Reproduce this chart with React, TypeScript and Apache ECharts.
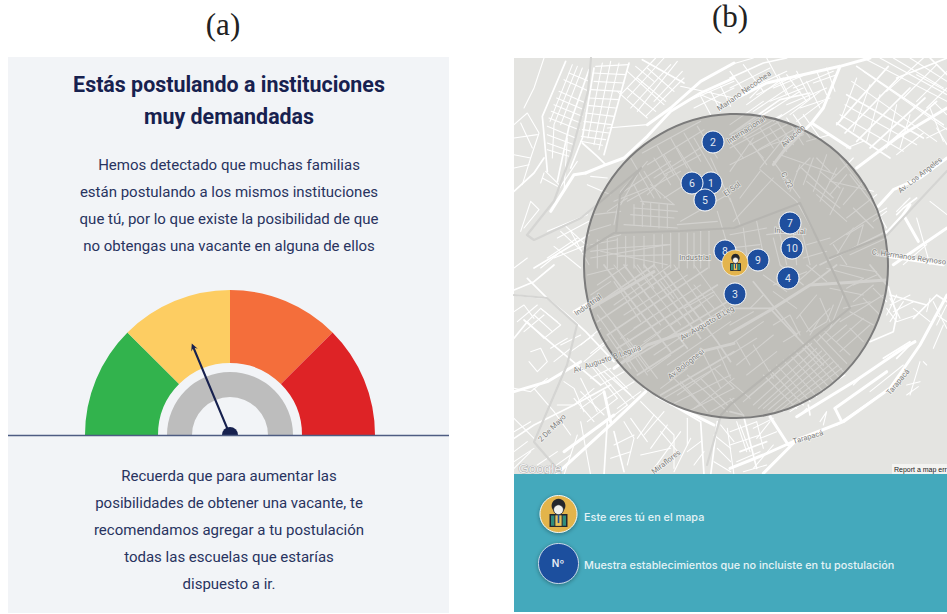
import React, { useEffect, useRef } from "react";
import * as echarts from "echarts";

// ---- Panel (a): gauge ----
const gaugeSegments = [45, 45, 45, 45];
const gaugeColors = ["#32b34d", "#fdcd62", "#f46e3b", "#de2326"];
const needleValue = 37.4;

const titleLines = ["Estás postulando a instituciones", "muy demandadas"];
const introLines = [
  "Hemos detectado que muchas familias",
  "están postulando a los mismos instituciones",
  "que tú, por lo que existe la posibilidad de que",
  "no obtengas una vacante en alguna de ellos",
];
const outroLines = [
  "Recuerda que para aumentar las",
  "posibilidades de obtener una vacante, te",
  "recomendamos agregar a tu postulación",
  "todas las escuelas que estarías",
  "dispuesto a ir.",
];

// ---- Panel (b): map markers ----
const schoolNames = ["2", "1", "6", "5", "7", "10", "8", "9", "4", "3"];
const schoolX = [713, 711, 692, 705, 790, 792, 725, 758, 788, 735];
const schoolY = [142, 183, 183, 200, 223, 248, 251, 260, 278, 294];
const userPoint = [735, 263];
const searchCentre = [736, 266];

const legendTexts = ["Este eres tú en el mapa", "Muestra establecimientos que no incluiste en tu postulación"];

const mapLabels: [string, number, number, number][] = [
  ["Mariano Necochea", 744, 91, 35],
  ["Internacional", 746, 130, 33],
  ["Aviación", 793, 136, 42],
  ["Av. Los Angeles", 920, 175, 38],
  ["El Sol", 732, 189, 35],
  ["C. 22", 787, 180, -62],
  ["Industrial", 695, 257, 0],
  ["Industrial", 790, 231, -3],
  ["C. Hermanos Reynoso", 909, 257, -8],
  ["Industrial", 588, 305, 35],
  ["Av. Augusto B Leguía", 607, 359, 19],
  ["Av. Augusto B Leg", 707, 323, 30],
  ["Av Bolognesi", 686, 364, 38],
  ["2 De Mayo", 552, 428, 45],
  ["Miraflores", 666, 462, 38],
  ["Tarapacá", 898, 382, 50],
  ["Tarapacá", 808, 437, 17],
];

const nwMajor = [
  "215,345 270,322 330,300 400,235 470,160 560,105 660,60",
  "110,460 180,350 215,345",
  "400,200 470,150 560,70 660,15",
];
const nwMedium = [
  "155,10 85,175 100,340", "225,35 165,205 130,370", "240,30 205,240 170,330",
  "345,15 270,290", "385,5 510,75", "60,630 160,570 225,530", "0,400 60,345 90,300",
  "275,320 250,295 205,255",
];
const nwMinor = [
  "90,0 60,90 30,150", "190,25 120,200 115,300", "150,65 225,100", "135,100 215,135", "120,140 205,175",
  "105,180 195,215", "100,230 180,260", "100,275 165,295", "95,340 135,380", "85,360 130,385", "90,345 80,375",
  "245,25 345,20", "290,10 240,260", "240,70 330,75", "225,120 315,125", "215,165 300,175", "205,215 285,225",
  "200,250 265,262", "0,200 40,165 75,225 50,300 25,380", "0,240 70,230", "0,290 50,300", "0,330 45,320",
  "20,195 55,270", "340,40 450,140", "310,100 400,180", "425,0 320,110", "470,20 350,150", "510,60 395,175",
  "365,25 420,70", "280,210 400,200", "20,520 50,430 75,455 30,510", "160,240 150,400", "190,310 130,400",
  "120,565 200,630", "100,600 190,540", "140,520 215,590", "150,500 215,560", "0,630 40,600", "230,355 280,360",
  "220,380 290,410", "500,85 660,120", "560,110 620,135",
  "400,320 570,215", "420,360 590,250", "450,350 560,290", "385,285 560,190", "470,240 520,330", "510,225 560,310",
  "430,265 480,350", "550,205 610,300", "590,300 650,430", "450,420 560,350", "500,490 640,410",
  "360,450 490,460", "350,470 480,480", "380,430 480,440", "330,500 490,510", "400,410 460,350", "320,440 370,350",
  "300,500 320,400 400,310", "280,460 340,420", "240,470 320,460", "225,520 290,500",
  "250,550 320,530", "230,600 460,560", "310,540 310,630", "360,535 360,630", "420,530 420,630", "470,525 470,630",
  "520,525 520,630", "560,520 560,630", "610,460 640,560", "260,580 460,620", "490,500 610,490",
  "175,20 108,190", "205,30 140,200", "165,45 225,70", "128,120 210,155", "112,160 200,195", "100,205 185,240",
  "100,255 170,280", "265,15 222,240", "315,15 255,275", "237,45 335,50", "232,95 322,100", "220,142 305,150",
  "210,190 292,200", "202,235 275,245", "400,30 480,100", "370,60 455,130", "340,90 425,160", "450,0 340,120",
  "490,10 370,160", "505,40 420,130", "520,130 660,70", "540,150 660,90", "590,100 620,160", "620,85 650,145",
  "560,115 590,170", "330,400 470,310", "340,430 500,340", "350,300 420,420", "300,430 400,390", "420,300 470,380",
  "540,240 610,360", "490,270 540,350", "450,290 500,370", "390,340 440,420", "360,380 390,440", "410,380 480,440",
  "360,440 360,500", "385,435 385,505", "410,435 410,505", "435,440 435,510", "460,440 460,510",
  "230,560 310,545", "230,580 310,570", "310,570 470,560", "310,595 470,590", "250,545 250,630", "280,540 280,630",
  "335,535 335,630", "390,535 390,630", "445,530 445,630", "495,525 495,630", "540,525 540,630", "585,520 585,630",
  "100,520 220,470", "130,540 225,490", "120,600 220,560", "80,630 130,590", "170,520 225,620",
];
const neMajor = [
  "0,130 110,75 330,25 420,0", "330,25 280,150 245,195 360,270", "245,195 160,280 130,320",
  "380,330 500,240 651,150", "445,445 490,395 570,360 651,300", "490,620 651,510",
  "440,590 540,605 640,620", "520,470 565,550", "470,525 520,470 540,440",
];
const neMedium = [
  "380,25 640,200", "350,110 580,240", "320,195 480,300", "320,200 475,25", "345,225 505,60",
  "380,250 540,90", "420,270 585,120", "460,270 620,130", "0,230 150,125 240,105", "0,60 100,15 170,0",
  "500,60 651,0", "651,50 600,0", "270,620 470,520", "500,470 520,450 560,420",
];
const neMinor = [
  "0,40 50,110", "40,20 100,100", "110,0 170,110", "170,50 230,130", "230,70 270,150", "50,140 160,60",
  "70,160 190,80", "100,170 210,100", "130,190 240,120", "180,170 270,100", "200,190 280,130", "100,80 60,120",
  "380,60 330,190", "420,80 370,220", "450,110 410,250", "500,140 470,270", "540,170 510,270", "610,130 650,170",
  "600,150 640,250", "620,210 651,260", "490,0 640,90", "540,0 651,70", "590,240 651,210", "500,290 580,225",
  "0,270 150,190", "0,320 120,260 220,230", "90,335 200,430 250,520", "130,310 210,420", "30,420 90,340",
  "10,490 130,360", "150,290 320,350", "215,330 310,420", "230,370 330,450", "260,410 350,490", "210,320 180,400",
  "250,300 220,380", "290,290 250,400", "320,330 270,430", "340,390 300,470", "300,560 420,480 470,450",
  "350,530 400,500 380,570", "320,590 370,510", "110,530 230,515", "40,510 50,590", "80,490 100,590", "130,540 150,620",
  "210,500 240,620", "330,300 400,390", "300,370 430,400", "70,240 0,340", "170,230 90,330", "0,420 30,500",
  "60,250 110,320", "120,210 170,280", "170,180 220,260", "220,170 270,240", "370,300 300,370",
  "360,350 430,440 470,510", "560,480 600,620", "500,460 530,430", "520,440 540,420",
  "0,200 100,130", "20,220 130,150", "40,240 155,170", "60,260 170,200", "85,275 190,215", "0,250 40,300", "40,230 100,300",
  "90,210 130,270", "140,190 190,260", "190,170 240,240", "230,250 300,230", "200,340 240,300", "260,300 300,340",
  "270,340 330,390", "300,410 350,350", "340,440 400,370", "350,480 440,410", "430,490 470,460", "370,450 430,510",
  "310,560 350,620", "360,590 470,540", "0,530 110,510", "0,570 90,560", "0,610 80,600", "230,560 300,540", "220,600 290,580",
  "150,530 170,620", "190,520 200,620",
  "0,20 70,0", "0,90 120,30", "40,100 170,40", "80,110 200,50", "130,90 250,40", "190,90 310,40", "250,75 320,50",
  "145,50 180,120", "200,40 240,120", "260,40 290,110", "290,30 315,100", "120,130 220,90", "170,140 290,90", "210,150 300,120",
  "400,40 651,215", "365,70 620,250", "345,140 560,260", "330,170 520,280", "400,0 651,130", "450,0 651,110", "560,50 651,100",
  "350,270 400,250", "580,0 470,100", "620,20 520,120", "651,40 560,130", "651,90 590,150", "520,620 590,560", "600,430 651,470",
];
const swMajor = [
  "130,625 300,470 395,380", "0,380 100,350 200,290", "270,380 290,470", "300,310 400,240 520,200 660,130",
  "470,330 560,260 660,235", "430,395 560,460 600,480", "230,130 300,90 420,20", "180,140 230,110",
  "150,560 300,450",
];
const swMedium = [
  "0,220 40,170", "0,90 100,100 160,150 215,200 300,290", "30,165 130,250 260,360", "0,75 60,50 120,0", "40,40 100,100",
  "270,0 470,260", "330,0 520,250", "390,0 560,220", "450,20 610,230 650,290", "230,130 420,0", "250,170 490,10",
  "280,210 580,10", "310,250 610,60", "340,290 640,110", "370,330 510,240", "440,390 660,260",
  "0,520 60,480 180,420 290,360", "280,470 270,630", "300,500 330,620", "390,370 560,470 570,630", "610,470 590,630",
];
const swMinor = [
  "40,170 80,130 140,180 90,220 40,170", "60,150 115,200", "80,130 130,170", "50,260 80,250 100,290 70,320 45,290",
  "140,240 200,210", "170,260 240,210", "210,290 270,240", "0,370 50,380 100,340", "0,460 60,520", "60,370 120,440 170,510",
  "150,350 180,370 210,440", "200,340 250,440", "130,420 180,420 240,370", "230,300 310,400", "260,290 340,370",
  "300,340 350,390", "200,430 270,380", "220,470 310,400", "250,490 340,420", "190,510 150,630", "200,470 230,630",
  "330,470 360,520 340,600", "380,410 480,510 480,610", "420,450 370,520", "460,480 410,550", "500,500 420,610",
  "530,520 480,620", "520,460 520,540", "0,610 50,560", "0,560 40,530", "620,480 660,530", "640,490 660,630",
  "240,100 400,310", "280,210 350,310", "300,50 380,170", "220,30 300,10", "370,0 420,70", "440,50 480,100",
  "320,220 420,150", "350,265 440,200", "400,320 470,270", "470,180 560,120", "510,130 600,80", "540,60 600,130",
  "560,250 620,370", "610,250 650,340", "480,340 560,420", "520,330 640,440", "440,370 520,310", "490,390 590,320",
  "540,430 660,340", "590,440 660,400",
  "250,60 340,0", "230,90 290,50", "300,120 470,0", "330,150 520,30", "360,190 560,60", "390,230 600,90", "420,270 630,130",
  "460,300 650,170", "300,0 440,180", "360,0 500,180", "420,0 540,170", "480,0 600,170", "540,0 650,150", "250,150 370,320",
  "300,180 400,330", "340,220 430,340", "450,400 620,300", "470,420 650,330", "520,440 660,370", "560,340 640,420",
  "600,310 660,370", "500,350 580,440", "240,300 340,420", "270,320 360,400", "200,380 270,450", "180,400 240,470",
  "230,340 290,310", "260,360 330,320", "280,400 360,350", "310,430 380,380", "0,140 30,120 60,160", "30,200 90,150",
  "10,170 70,120", "110,250 160,220", "200,240 260,190", "230,265 280,225", "120,290 170,250", "350,460 400,530",
  "390,510 450,440", "440,500 500,570", "300,540 360,510", "290,580 350,560", "380,570 470,550", "520,560 560,530",
  "540,600 570,560", "600,510 650,550", "610,550 650,590", "600,590 650,620", "0,500 50,470", "0,590 60,550", "70,600 130,560",
  "100,620 170,570",
];
const seMajor = [
  "0,610 100,570 200,525 340,470 480,370 570,240 651,90", "200,455 380,345 520,250 555,230", "120,455 175,540",
  "0,205 130,130 240,60 470,45", "315,430 335,470", "315,430 470,320", "100,625 200,525",
];
const seMedium = [
  "475,65 500,150 490,200 420,230", "480,90 590,120", "0,440 40,450 80,610", "550,160 620,90 651,110",
  "500,280 540,240", "460,280 540,230", "450,390 320,480", "240,60 320,0", "0,130 130,130",
  "470,60 420,0", "70,50 200,210", "120,130 280,300", "235,420 240,450", "30,560 110,530",
];
const seMinor = [
  "480,100 510,160", "500,90 470,150", "520,110 480,170", "550,130 600,170", "610,110 650,190", "570,290 540,390",
  "580,290 590,300", "530,360 570,350", "530,390 565,365", "640,180 610,250", "650,120 620,180",
  "70,420 260,250", "100,430 290,265", "130,440 310,290", "160,440 335,310", "40,410 230,245",
  "100,330 200,430", "140,300 240,410", "180,270 280,380", "215,245 310,350", "250,220 340,320", "285,200 360,270",
  "320,230 400,160", "330,260 420,180", "360,190 400,230", "290,230 350,180", "210,150 240,200 290,170 310,120",
  "270,100 300,170", "300,70 400,90", "350,70 400,40", "370,110 430,60", "0,270 80,220", "20,230 60,300", "70,240 130,340",
  "130,180 180,150 210,210", "160,230 210,200", "100,90 60,130", "130,80 200,130", "0,350 60,400", "0,400 40,450",
  "0,500 80,470", "0,540 90,510", "20,470 50,560", "80,470 100,550", "240,210 270,160",
  "55,395 245,235", "85,430 275,258", "115,435 300,278", "145,440 325,300", "180,440 345,330", "120,315 220,420",
  "160,285 260,395", "195,258 295,365", "232,232 325,335", "268,210 350,295", "0,180 70,140", "0,240 100,170",
  "20,300 130,210", "50,330 140,260", "200,160 260,90", "230,200 300,130", "260,230 330,160", "300,190 340,90",
  "340,130 420,110", "330,170 460,90", "360,140 430,180", "400,100 450,150", "430,70 470,110", "130,60 230,20",
  "180,70 260,0", "100,30 170,80", "150,0 220,60", "230,0 290,50", "290,10 400,40", "330,0 440,20", "370,60 440,30",
  "480,120 540,90", "490,140 550,110", "470,130 500,170", "500,170 560,150", "600,100 590,140", "620,150 651,170",
  "420,380 520,300", "370,360 390,340", "120,470 80,520", "30,480 60,560", "70,490 130,460", "90,520 140,500",
  "20,590 90,560", "40,620 110,600", "130,540 70,610", "210,450 230,430", "270,470 290,440 280,480",
];

const parseRoads = (lists: [string[], number, number][]) =>
  lists.flatMap(([rows, ox, oy]) =>
    rows.map((row) => ({
      coords: row.split(" ").map((pair) => {
        const [x, y] = pair.split(",").map(Number);
        return [ox + x / 3, oy + y / 3];
      }),
    })),
  );

const majorRoads = parseRoads([[nwMajor, 514, 58], [neMajor, 730, 58], [swMajor, 514, 265], [seMajor, 730, 265]]);
const mediumRoads = parseRoads([[nwMedium, 514, 58], [neMedium, 730, 58], [swMedium, 514, 265], [seMedium, 730, 265]]);
const minorRoads = parseRoads([[nwMinor, 514, 58], [neMinor, 730, 58], [swMinor, 514, 265], [seMinor, 730, 265]]);
const greyRoads = [
  [[591, 58], [588, 91], [571, 155], [554, 201], [527, 235], [534, 240], [581, 218], [641, 168], [620, 195], [616, 233]],
  [[583, 252], [614, 233], [680, 231], [734, 228], [800, 203], [830, 265], [850, 308], [730, 405], [721, 415], [707, 465]],
  [[514, 295], [547, 298], [577, 325], [567, 365], [534, 442], [561, 473]],
  [[830, 258], [887, 235], [947, 171]],
].map((coords) => ({ coords }));

const roadSeries = (data: any[], width: number, color: string) => ({
  type: "lines",
  coordinateSystem: "cartesian2d",
  polyline: true,
  silent: true,
  z: 2,
  data,
  lineStyle: { color, width, opacity: 1, curveness: 0, cap: "round", join: "round" },
  effect: { show: false },
});

const FONT = "Roboto";
const NAVY = "#17214f";
const BODY = "#28335f";

const textEl = (text: string, x: number, y: number, size: number, fill: string, extra: any = {}, z = 3) => ({
  type: "text",
  x,
  y,
  z,
  silent: true,
  style: { text, fontSize: size, fontFamily: FONT, fill, textAlign: "center", textVerticalAlign: "middle", ...extra },
});

const person = (cx: number, cy: number, k: number, z: number) => ({
  type: "group",
  x: cx,
  y: cy,
  scaleX: k,
  scaleY: k,
  z,
  silent: true,
  children: [
    { type: "rect", z, shape: { x: -5, y: 0.5, width: 10, height: 7 }, style: { fill: "#2f8c7c", stroke: "#23262e", lineWidth: 0.9 } },
    { type: "rect", z, shape: { x: -2.2, y: 0.5, width: 4.4, height: 7 }, style: { fill: "#e8c35a", stroke: "#23262e", lineWidth: 0.6 } },
    { type: "circle", z, shape: { cx: 0, cy: -5, r: 4.2 }, style: { fill: "#24262c" } },
    { type: "circle", z, shape: { cx: 0, cy: -2.6, r: 3 }, style: { fill: "#f1f1ee", stroke: "#24262c", lineWidth: 0.5 } },
    { type: "rect", z, shape: { x: -0.5, y: 0.5, width: 1, height: 5 }, style: { fill: "#1f4e99" } },
  ],
});

export default function App() {
  const ref = useRef<HTMLDivElement>(null);

  useEffect(() => {
    document.body.style.margin = "0";
    document.body.style.background = "#ffffff";
    const chart = echarts.init(ref.current!, undefined, { renderer: "svg" });

    const hiddenSlice = { value: 180, itemStyle: { color: "transparent" } };
    const flatPie = {
      type: "pie",
      center: [230, 435],
      startAngle: 180,
      silent: true,
      clockwise: true,
      label: { show: false },
      labelLine: { show: false },
      emphasis: { disabled: true },
    };

    chart.setOption({
      animation: false,
      backgroundColor: "#ffffff",
      tooltip: { show: false },
      grid: { left: 514, top: 58, width: 433, height: 416, containLabel: false },
      xAxis: { type: "value", min: 514, max: 947, show: false },
      yAxis: { type: "value", min: 58, max: 474, inverse: true, show: false },
      series: [
        { ...flatPie, z: 2, radius: [72, 145], data: [...gaugeSegments.map((value, i) => ({ value, itemStyle: { color: gaugeColors[i] } })), hiddenSlice] },
        { ...flatPie, z: 2, radius: [38, 63], data: [{ value: 180, itemStyle: { color: "#bdbdbd" } }, hiddenSlice] },
        {
          type: "gauge",
          z: 3,
          silent: true,
          center: [230, 435],
          radius: 145,
          startAngle: 180,
          endAngle: 0,
          min: 0,
          max: 100,
          axisLine: { show: false },
          axisTick: { show: false },
          splitLine: { show: false },
          axisLabel: { show: false },
          title: { show: false },
          detail: { show: false },
          anchor: { show: false },
          progress: { show: false },
          pointer: {
            icon: "path://M3,99 L3,5 L0.6,7 L4,0 L7.4,7 L5,5 L5,99 Z",
            length: 99,
            width: 7,
            offsetCenter: [0, 0],
            itemStyle: { color: NAVY },
          },
          data: [{ value: needleValue }],
        },
        { ...flatPie, z: 4, radius: [0, 8], data: [{ value: 180, itemStyle: { color: NAVY } }, hiddenSlice] },

        roadSeries(minorRoads, 1.1, "#ffffff"),
        roadSeries(mediumRoads, 1.7, "#ffffff"),
        roadSeries(majorRoads, 3, "#ffffff"),
        roadSeries(greyRoads, 2.2, "#d5d5d3"),
        {
          type: "scatter",
          coordinateSystem: "cartesian2d",
          silent: true,
          z: 3,
          symbol: "circle",
          symbolSize: 304,
          data: [searchCentre],
          itemStyle: { color: "rgba(124,120,112,0.34)", borderColor: "#7b7b7b", borderWidth: 2, opacity: 1 },
        },
        {
          type: "scatter",
          coordinateSystem: "cartesian2d",
          silent: true,
          z: 6,
          symbol: "circle",
          symbolSize: 22,
          data: schoolNames.map((name, i) => ({ name, value: [schoolX[i], schoolY[i]] })),
          itemStyle: { color: "#1f4f9e", borderColor: "#ffffff", borderWidth: 1, opacity: 1 },
          label: { show: true, position: "inside", formatter: "{b}", color: "#e4e9f2", fontSize: 10.5, fontFamily: FONT },
        },
        {
          type: "scatter",
          coordinateSystem: "cartesian2d",
          silent: true,
          z: 7,
          symbol: "circle",
          symbolSize: 26,
          data: [userPoint],
          itemStyle: { color: "#e3b44c", borderColor: "#ffffff", borderWidth: 0.6, opacity: 1 },
        },
      ],
      graphic: {
        elements: [
          { type: "rect", z: -2, silent: true, shape: { x: 8, y: 57, width: 441, height: 556 }, style: { fill: "#f2f4f7" } },
          { type: "rect", z: -2, silent: true, shape: { x: 514, y: 58, width: 433, height: 416 }, style: { fill: "#e4e4e1" } },
          { type: "line", z: 5, silent: true, shape: { x1: 8, y1: 435.5, x2: 449, y2: 435.5 }, style: { stroke: "#4e5c82", lineWidth: 1.5 } },

          textEl("(a)", 223, 24, 31, "#222222", { fontFamily: "Liberation Serif" }),
          textEl("(b)", 730, 16, 31, "#222222", { fontFamily: "Liberation Serif" }),
          ...titleLines.map((t, i) => textEl(t, 229, 84 + i * 32, 21.4, NAVY, { fontWeight: 700 })),
          ...introLines.map((t, i) => textEl(t, 229, 165 + i * 27, 15, BODY)),
          ...outroLines.map((t, i) => textEl(t, 229, 476 + i * 27, 15, BODY)),

          ...mapLabels.map(([t, x, y, deg]) => ({
            ...textEl(t, x, y, 7.6, "#7f7f7d", { stroke: "rgba(255,255,255,0.55)", lineWidth: 1.5 }, 5),
            rotation: (deg * Math.PI) / 180,
          })),
          textEl("Google", 540, 468, 13.5, "rgba(255,255,255,0.85)", { fontFamily: "Liberation Sans", stroke: "#9a9a9a", lineWidth: 0.7 }, 5),
          { type: "rect", z: 5, silent: true, shape: { x: 892, y: 464, width: 55, height: 10 }, style: { fill: "#f3f3f1" } },
          textEl("Report a map err", 894, 469, 7, "#222222", { fontFamily: "Liberation Sans", textAlign: "left" }, 6),

          { type: "rect", z: 8, silent: true, shape: { x: 514, y: 474, width: 433, height: 138 }, style: { fill: "#44a9bc" } },
          { type: "circle", z: 9, silent: true, shape: { cx: 558.5, cy: 514, r: 18.5 }, style: { fill: "#e3b44c", stroke: "#f4f4ee", lineWidth: 1, shadowBlur: 4, shadowColor: "rgba(0,0,0,0.35)", shadowOffsetY: 1 } },
          { type: "circle", z: 9, silent: true, shape: { cx: 558.5, cy: 563.5, r: 20 }, style: { fill: "#1f4f9e", stroke: "#c9d6e6", lineWidth: 1, shadowBlur: 4, shadowColor: "rgba(0,0,0,0.35)", shadowOffsetY: 1 } },
          textEl("Nº", 558, 563, 10, "#e6edf5", { fontFamily: "Inter", fontWeight: 600 }, 10),
          textEl(legendTexts[0], 584, 517, 10.85, "#e4f3f6", { fontFamily: "Inter", fontWeight: 500, textAlign: "left" }, 10),
          textEl(legendTexts[1], 584, 565, 10.85, "#e4f3f6", { fontFamily: "Inter", fontWeight: 500, textAlign: "left" }, 10),

          person(735.5, 263, 1, 8),
          person(558.5, 514, 1.65, 10),
        ],
      },
    });

    return () => chart.dispose();
  }, []);

  return <div ref={ref} style={{ position: "absolute", left: 0, top: 0, width: 947, height: 614, overflow: "hidden" }} />;
}
